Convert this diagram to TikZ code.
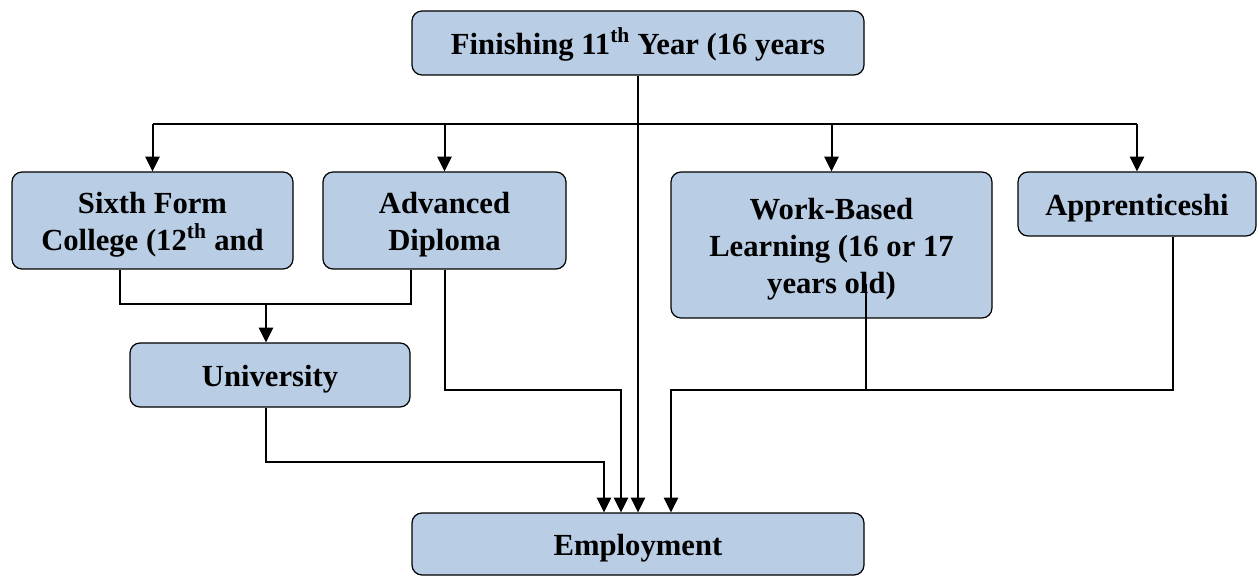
\documentclass[tikz,border=0pt]{standalone}
\usepackage{fontspec}
\setmainfont{Liberation Serif}
\usetikzlibrary{arrows.meta}
\definecolor{hellblau}{RGB}{185,205,229}
\newcommand{\hoch}{\rule{0pt}{22pt}}
\tikzset{
  kasten/.style={draw, line width=0.9pt, fill=hellblau, rounded corners=7.5pt, align=center, inner sep=0pt,
    font=\fontsize{23}{27.5}\selectfont\bfseries},
  linie/.style={line width=1.5pt},
  pfeil/.style={line width=1.5pt, -{Triangle[length=11pt,width=10.5pt]}}
}

\begin{document}
\begin{tikzpicture}[x=0.75pt, y=-0.75pt]
\useasboundingbox (0,0) rectangle (1257,577);

% boxes
\node[kasten, minimum width=339pt, minimum height=48pt] (fin) at (638,43) {\hoch Finishing 11\textsuperscript{th} Year (16 years};
\node[kasten, minimum width=210.75pt, minimum height=72.75pt] (sixth) at (152.5,220.5) {\hoch Sixth Form\\College (12\textsuperscript{th} and};
\node[kasten, minimum width=182.25pt, minimum height=72.75pt] (adv) at (444.5,220.5) {\hoch Advanced\\Diploma};
\node[kasten, minimum width=240.75pt, minimum height=109.5pt] (work) at (831.5,245) {\hoch Work-Based\\Learning (16 or 17\\years old)};
\node[kasten, minimum width=178.5pt, minimum height=48pt] (app) at (1137,204) {\hoch Apprenticeshi};
\node[kasten, minimum width=210pt, minimum height=48pt] (uni) at (270,375) {\hoch University};
\node[kasten, minimum width=339pt, minimum height=46.5pt] (emp) at (638,544) {\hoch Employment};

% helper points
\coordinate (bus) at (638,124);
\coordinate (j1) at (266,304);
\coordinate (u2) at (604,462);
\coordinate (a2) at (621,390);
\coordinate (w1) at (866,284);
\coordinate (w2) at (671,390);

% top level
\draw[pfeil] (fin) -- (emp);
\draw[linie] (sixth.north |- bus) -- (app.north |- bus);
\foreach \n in {sixth,adv,work,app}
  \draw[pfeil] (\n.north |- bus) -- (\n.north);

% sixth form + diploma to university
\draw[linie] ([xshift=-24.4pt]sixth.south) |- (j1) -| ([xshift=-25pt]adv.south);
\draw[pfeil] (j1) -- (j1 |- uni.north);

% into employment
\draw[pfeil] (j1 |- uni.south) |- (u2) -- (u2 |- emp.north);
\draw[pfeil] (adv.south) |- (a2) -- (a2 |- emp.north);
\draw[linie] (w1) -- (w1 |- w2);
\draw[pfeil] ([xshift=27pt]app.south) |- (w2) -- (w2 |- emp.north);
\end{tikzpicture}
\end{document}
